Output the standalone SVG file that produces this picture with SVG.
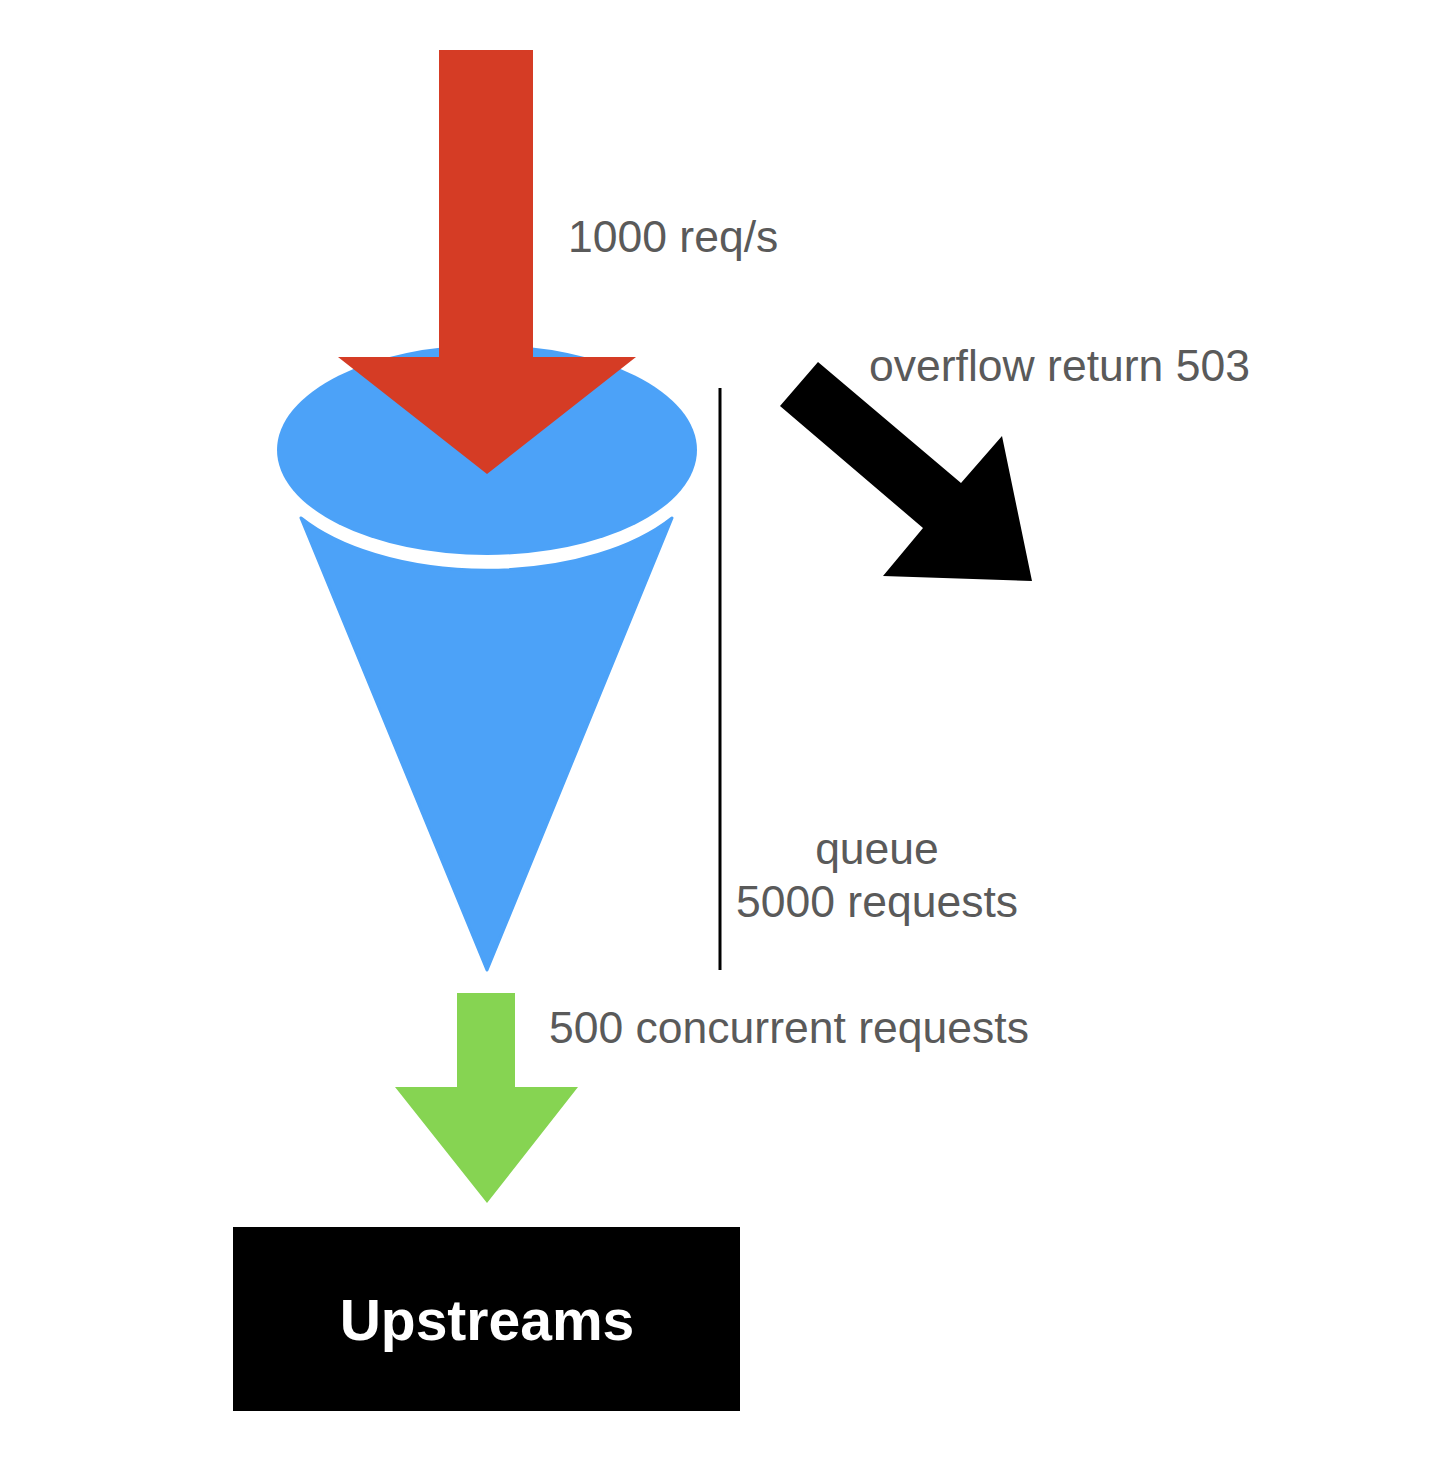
<svg xmlns="http://www.w3.org/2000/svg" width="1432" height="1474" viewBox="0 0 1432 1474">
<style>
.lbl{font-family:"Liberation Sans",Arial,sans-serif;font-size:44.5px;fill:#5a5a5a}
.up{font-family:"Liberation Sans",Arial,sans-serif;font-size:57px;font-weight:bold;fill:#ffffff}
</style>
<rect width="1432" height="1474" fill="#ffffff"/>
<g id="funnel">
<path d="M301,518 A222 116 0 0 0 672,518 L487,970 Z" fill="#4ca2f8" stroke="#4ca2f8" stroke-width="3" stroke-linejoin="round"/>
<ellipse cx="487" cy="450" rx="210" ry="105" fill="#4ca2f8"/>
</g>
<g id="connectors">
<polygon id="incoming" points="439,50 533,50 533,357 636,357 487,474 338,357 439,357" fill="#d53c25"/>
<polygon id="overflow" points="818,362 961,483 1002,436 1032,581 883,576 923,528 780,406" fill="#000000"/>
<polygon id="outgoing" points="457,993 515,993 515,1087 578,1087 487,1203 395,1087 457,1087" fill="#86d452"/>
<line id="queue-line" x1="720" y1="388" x2="720" y2="970" stroke="#000000" stroke-width="3"/>
</g>
<g id="labels">
<text class="lbl" x="568" y="252">1000 req/s</text>
<text class="lbl" x="869" y="381">overflow return 503</text>
<text class="lbl" x="877" y="864" text-anchor="middle">queue</text>
<text class="lbl" x="877" y="917" text-anchor="middle">5000 requests</text>
<text class="lbl" x="549" y="1043">500 concurrent requests</text>
</g>
<g id="upstreams">
<rect x="233" y="1227" width="507" height="184" fill="#000000"/>
<text class="up" x="487" y="1340" text-anchor="middle">Upstreams</text>
</g>
</svg>
